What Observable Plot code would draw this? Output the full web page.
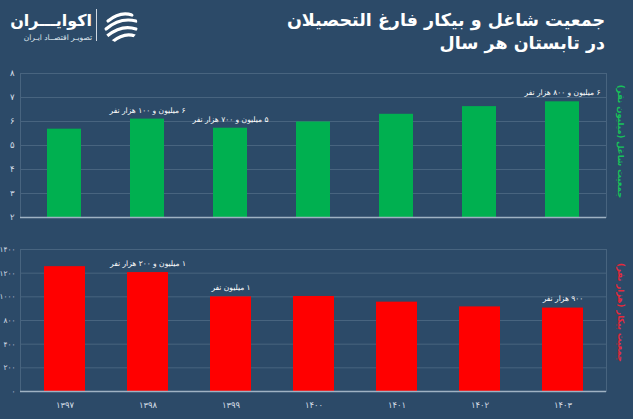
<!DOCTYPE html>
<html>
<head>
<meta charset="utf-8">
<script src="https://cdn.jsdelivr.net/npm/d3@7"></script>
<script src="https://cdn.jsdelivr.net/npm/@observablehq/plot@0.6"></script>
<style>
  html, body { margin: 0; padding: 0; }
  body { width: 633px; height: 419px; background: #2c4a68; position: relative; overflow: hidden; font-family: "DejaVu Sans", sans-serif; }
  #title { position: absolute; right: 28px; top: 9px; color: #fff; font-weight: bold; font-size: 17.5px; line-height: 23px; text-align: right; direction: rtl; }
  #brand { position: absolute; left: 6px; top: 10px; width: 86px; text-align: right; direction: rtl; color: #fff; }
  #brand .name { font-size: 16px; font-weight: bold; line-height: 22px; white-space: nowrap; }
  #brand .sub { font-size: 7.5px; line-height: 11px; color: #dfe6ee; white-space: nowrap; }
  #divider { position: absolute; left: 96px; top: 9px; width: 1px; height: 32px; background: #cfd8e2; }
  #logo { position: absolute; left: 102px; top: 7px; }
  #top { position: absolute; left: 0; top: 60px; }
  #bottom { position: absolute; left: 0; top: 222px; }
</style>
</head>
<body>
<div id="title">جمعیت شاغل و بیکار فارغ التحصیلان<br>در تابستان هر سال</div>
<div id="brand"><div class="name">اکوایـــران</div><div class="sub">تصویـر اقتصــاد ایـران</div></div>
<div id="divider"></div>
<svg id="logo" width="38" height="38" viewBox="0 0 38 38">
  <defs><clipPath id="lc"><circle cx="19" cy="19" r="17"/></clipPath></defs>
  <g clip-path="url(#lc)" stroke="#fff" stroke-width="3.2" fill="none" stroke-linecap="round">
    <path d="M6 14 Q18 4 30 8"/>
    <path d="M4 22 Q18 10 34 14"/>
    <path d="M5 29 Q20 17 34 22"/>
    <path d="M10 35 Q22 25 33 29"/>
  </g>
</svg>
<div id="top"></div>
<div id="bottom"></div>
<script>
// ---- data ----
const years = ["1397", "1398", "1399", "1400", "1401", "1402", "1403"];
const yearLabels = ["۱۳۹۷", "۱۳۹۸", "۱۳۹۹", "۱۴۰۰", "۱۴۰۱", "۱۴۰۲", "۱۴۰۳"];
const employed = [5.68, 6.1, 5.72, 5.98, 6.3, 6.62, 6.82];          // million people
const unemployed = [1255, 1205, 1000, 1003, 955, 915, 905];          // thousand people

const employedNotes = [
  {year: "1398", text: "۶ میلیون و ۱۰۰ هزار نفر"},
  {year: "1399", text: "۵ میلیون و ۷۰۰ هزار نفر"},
  {year: "1403", text: "۶ میلیون و ۸۰۰ هزار نفر"}
];
const unemployedNotes = [
  {year: "1398", text: "۱ میلیون و ۲۰۰ هزار نفر"},
  {year: "1399", text: "۱ میلیون نفر"},
  {year: "1403", text: "۹۰۰ هزار نفر"}
];

const topTicks = [2, 3, 4, 5, 6, 7, 8];
const topTickLabels = ["۲", "۳", "۴", "۵", "۶", "۷", "۸"];
const bottomTicks = [200, 400, 600, 800, 1000, 1200, 1400];
const bottomTickLabels = ["۰", "۲۰۰", "۴۰۰", "۸۰۰", "۱۰۰۰", "۱۲۰۰", "۱۴۰۰"];

const topAxisTitle = "جمعیت شاغل (میلیون نفر)";
const bottomAxisTitle = "جمعیت بیکار (هزار نفر)";

// ---- tables ----
const empData = years.map((y, i) => ({year: y, value: employed[i]}));
const unempData = years.map((y, i) => ({year: y, value: unemployed[i]}));
const empNotes = employedNotes.map(n => ({...n, value: employed[years.indexOf(n.year)]}));
const unempNotes = unemployedNotes.map(n => ({...n, value: unemployed[years.indexOf(n.year)]}));

const gridColor = "#48647f";
const baseColor = "#9fb2c3";
const tickColor = "#d3dce5";
const font = "DejaVu Sans, sans-serif";

function rtl(chart) {
  d3.select(chart).selectAll("g.rtl text").attr("direction", "rtl");
  return chart;
}

const topChart = Plot.plot({
  width: 633, height: 165,
  marginLeft: 20, marginRight: 27, marginTop: 13, marginBottom: 8,
  style: {background: "transparent", fontFamily: font},
  x: {domain: years, paddingInner: 0.59, paddingOuter: 0.295, axis: null},
  y: {domain: [2, 8], ticks: topTicks, tickFormat: d => topTickLabels[topTicks.indexOf(d)], label: null},
  marks: [
    Plot.gridY(topTicks, {stroke: gridColor, strokeOpacity: 1, strokeWidth: 1}),
    Plot.frame({stroke: gridColor, strokeWidth: 1}),
    Plot.axisY({ticks: topTicks, tickFormat: d => topTickLabels[topTicks.indexOf(d)], tickSize: 0, tickPadding: 6, fill: tickColor, fontSize: 8.5, label: null}),
    Plot.barY(empData, {x: "year", y: "value", fill: "#00b050", clip: true}),
    Plot.ruleY([2], {stroke: baseColor, strokeWidth: 1.5}),
    Plot.text(empNotes, {x: "year", y: "value", text: "text", dy: -9, fill: "#ffffff", fontSize: 7.5, fontFamily: font, className: "rtl"}),
    Plot.text([topAxisTitle], {frameAnchor: "right", textAnchor: "middle", dx: 14, dy: -4, rotate: 90, fill: "#17c25a", fontSize: 8.5, fontWeight: "bold", fontFamily: font, className: "rtl"})
  ]
});
document.getElementById("top").appendChild(rtl(topChart));

const bottomChart = Plot.plot({
  width: 633, height: 197,
  marginLeft: 20, marginRight: 27, marginTop: 27, marginBottom: 28,
  style: {background: "transparent", fontFamily: font},
  x: {domain: years, paddingInner: 0.51, paddingOuter: 0.255, label: null},
  y: {domain: [200, 1400], label: null},
  marks: [
    Plot.gridY(bottomTicks, {stroke: gridColor, strokeOpacity: 1, strokeWidth: 1}),
    Plot.frame({stroke: gridColor, strokeWidth: 1}),
    Plot.axisY({ticks: bottomTicks, tickFormat: d => bottomTickLabels[bottomTicks.indexOf(d)], tickSize: 0, tickPadding: 5, fill: tickColor, fontSize: 7.5, label: null}),
    Plot.axisX({tickFormat: d => yearLabels[years.indexOf(d)], tickSize: 0, tickPadding: 10, fill: tickColor, fontSize: 8.5, label: null}),
    Plot.barY(unempData, {x: "year", y: "value", fill: "#ff0000", clip: true}),
    Plot.ruleY([200], {stroke: baseColor, strokeWidth: 1.5}),
    Plot.text(unempNotes, {x: "year", y: "value", text: "text", dy: -9, fill: "#ffffff", fontSize: 7.5, fontFamily: font, className: "rtl"}),
    Plot.text([bottomAxisTitle], {frameAnchor: "right", textAnchor: "middle", dx: 14, dy: -8, rotate: 90, fill: "#e8283a", fontSize: 8.5, fontWeight: "bold", fontFamily: font, className: "rtl"})
  ]
});
document.getElementById("bottom").appendChild(rtl(bottomChart));
</script>
</body>
</html>
